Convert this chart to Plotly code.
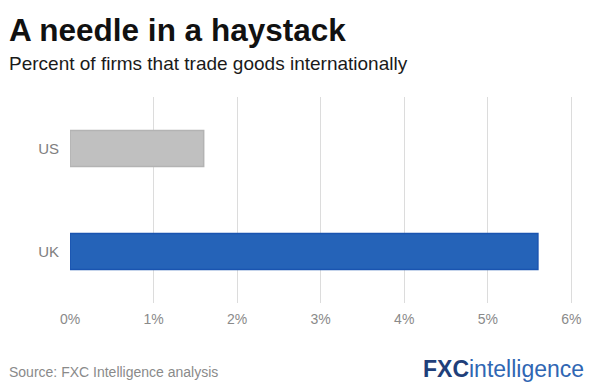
import plotly.graph_objects as go

categories = ["US", "UK"]
values = [1.6, 5.6]
bar_colors = ["#c0c0c0", "#2563b8"]
line_colors = ["#b3b3b3", "#1a54b0"]
tick_vals = [0, 1, 2, 3, 4, 5, 6]
tick_text = ["0%", "1%", "2%", "3%", "4%", "5%", "6%"]

FONT = "Liberation Sans, Arial, sans-serif"

fig = go.Figure()
fig.add_trace(go.Bar(
    y=categories, x=values, orientation="h",
    marker=dict(color=bar_colors, line=dict(color=line_colors, width=1.5)),
    width=0.35, hoverinfo="skip",
))

# page body has an 8px margin; margins compensate so the plot area lands where the reference has it
fig.update_layout(
    width=600, height=390,
    margin=dict(l=62, r=35, t=89, b=95),
    paper_bgcolor="white", plot_bgcolor="white",
    showlegend=False,
    font=dict(family=FONT, color="#888888", size=13),
    xaxis=dict(range=[0, 6.02], tickvals=tick_vals, ticktext=tick_text,
               showgrid=True, gridcolor="#dcdcdc", gridwidth=1,
               zeroline=False, showline=False, ticks="", ticklabelstandoff=6,
               tickfont=dict(size=14, color="#8a8a8a"), fixedrange=True),
    yaxis=dict(categoryorder="array", categoryarray=["UK", "US"],
               range=[-0.5, 1.5], showgrid=False, zeroline=False, showline=False,
               ticks="", ticklabelstandoff=10,
               tickfont=dict(size=15, color="#808080"), fixedrange=True),
)

fig.add_annotation(text="<b>A needle in a haystack</b>", xref="paper", yref="paper",
                   x=0, y=1, xanchor="left", yanchor="middle", showarrow=False,
                   xshift=-63, yshift=67,
                   font=dict(size=31.5, color="#111111", family=FONT))
fig.add_annotation(text="Percent of firms that trade goods internationally", xref="paper", yref="paper",
                   x=0, y=1, xanchor="left", yanchor="middle", showarrow=False,
                   xshift=-63, yshift=34,
                   font=dict(size=19, color="#1a1a1a", family=FONT))
fig.add_annotation(text="Source: FXC Intelligence analysis", xref="paper", yref="paper",
                   x=0, y=0, xanchor="left", yanchor="middle", showarrow=False,
                   xshift=-63, yshift=-69,
                   font=dict(size=14, color="#8a8a8a", family=FONT))
fig.add_annotation(text="<span style='color:#1f3f7a'><b>FXC</b></span><span style='color:#2f66b3'>intelligence</span>",
                   xref="paper", yref="paper",
                   x=1, y=0, xanchor="right", yanchor="middle", showarrow=False,
                   xshift=13, yshift=-66,
                   font=dict(size=23, family=FONT))

fig.write_html("out.html")
